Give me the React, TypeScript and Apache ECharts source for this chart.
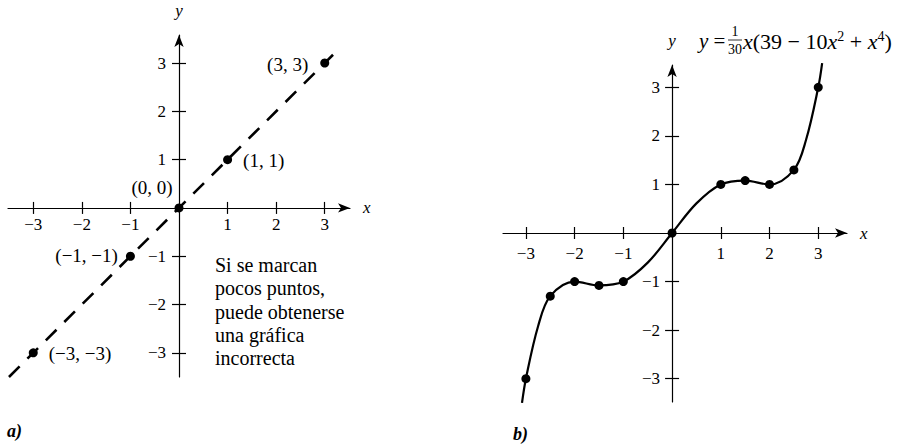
import React, { useEffect, useRef } from "react";
import * as echarts from "echarts";

// ---- Data ----
const TICKS = [-3, -2, -1, 1, 2, 3];

// Panel a: five plotted points and the dashed straight line through them
const pointsAX = [-3, -1, 0, 1, 3];
const pointsAY = [-3, -1, 0, 1, 3];
const pointsALabels = ["(−3, −3)", "(−1, −1)", "(0, 0)", "(1, 1)", "(3, 3)"];
const lineAX = [-3.5, 3.3];
const lineAY = [-3.5, 3.3];
const noteA = ["Si se marcan", "pocos puntos,", "puede obtenerse", "una gráfica", "incorrecta"];

// Panel b: plotted points and the smooth curve drawn through them
const pointsBX = [-3, -2.5, -2, -1.5, -1, 0, 1, 1.5, 2, 2.5, 3];
const pointsBY = [-3, -1.3, -1, -1.08, -1, 0, 1, 1.08, 1, 1.3, 3];
const curveBX = [-3.08, -3, -2.75, -2.5, -2, -1.5, -1, -0.5, 0, 0.5, 1, 1.5, 2, 2.5, 2.75, 3, 3.08];
const curveBY = [-3.5, -3, -1.92, -1.3, -1, -1.08, -1, -0.61, 0, 0.61, 1, 1.08, 1, 1.3, 1.92, 3, 3.5];

// Axis ranges
const rangeA = { xmin: -3.52, xmax: 3.52, ymin: -3.5, ymax: 3.58 };
const rangeB = { xmin: -3.47, xmax: 3.59, ymin: -3.48, ymax: 3.46 };

// ---- Layout / styling ----
const SERIF = "Liberation Serif";
const INK = "#000";
const gridA = { left: 8, top: 35, width: 342, height: 342 };
const gridB = { left: 503, top: 65, width: 344, height: 337 };

const labelPosA = [
  { position: "right", distance: 11, offset: [0, 1] },
  { position: "left", distance: 8, offset: [0, -1] },
  { position: "top", distance: 6, offset: [-27, 0] },
  { position: "right", distance: 11, offset: [0, 1] },
  { position: "left", distance: 12, offset: [0, 1] },
];

const fmt = (v: number) => (v < 0 ? "−" + Math.abs(v) : String(v));

type G = { left: number; top: number; width: number; height: number };
type R = { xmin: number; xmax: number; ymin: number; ymax: number };

function zeroPos(g: G, r: R) {
  const zx = g.left + (g.width * (0 - r.xmin)) / (r.xmax - r.xmin);
  const zy = g.top + (g.height * (r.ymax - 0)) / (r.ymax - r.ymin);
  return { zx, zy };
}

const tickStyle = { color: INK, width: 1.2 };
const labelStyle = { fontFamily: SERIF, fontSize: 17, color: INK };

function xAxes(gridIndex: number, g: G, r: R, labelMargin: number) {
  const { zy } = zeroPos(g, r);
  const base = { type: "value", gridIndex, min: r.xmin, max: r.xmax, splitLine: { show: false } };
  return [
    {
      ...base,
      position: "bottom",
      offset: -(g.top + g.height - zy),
      name: "x",
      nameLocation: "end",
      nameGap: 13,
      nameTextStyle: { fontFamily: SERIF, fontStyle: "italic", fontSize: 17, color: INK, verticalAlign: "middle" },
      axisLine: {
        show: true,
        onZero: false,
        symbol: ["none", "arrow"],
        symbolSize: [7, 12],
        lineStyle: { color: INK, width: 1.2 },
      },
      axisTick: { show: true, customValues: TICKS, length: 6, lineStyle: tickStyle },
      axisLabel: { show: true, customValues: TICKS, formatter: fmt, margin: labelMargin, ...labelStyle },
    },
    {
      ...base,
      position: "top",
      offset: -(zy - g.top),
      axisLine: { show: false, onZero: false },
      axisTick: { show: true, customValues: TICKS, length: 6, lineStyle: tickStyle },
      axisLabel: { show: false },
    },
  ];
}

function yAxes(gridIndex: number, g: G, r: R, labelMargin: number) {
  const { zx } = zeroPos(g, r);
  const base = { type: "value", gridIndex, min: r.ymin, max: r.ymax, splitLine: { show: false } };
  return [
    {
      ...base,
      position: "left",
      offset: -(zx - g.left),
      name: "y",
      nameLocation: "end",
      nameGap: 16,
      nameTextStyle: { fontFamily: SERIF, fontStyle: "italic", fontSize: 17, color: INK },
      axisLine: {
        show: true,
        onZero: false,
        symbol: ["none", "arrow"],
        symbolSize: [7, 12],
        lineStyle: { color: INK, width: 1.2 },
      },
      axisTick: { show: true, customValues: TICKS, length: 7, lineStyle: tickStyle },
      axisLabel: { show: true, customValues: TICKS, formatter: fmt, margin: labelMargin, ...labelStyle },
    },
    {
      ...base,
      position: "right",
      offset: -(g.left + g.width - zx),
      axisLine: { show: false, onZero: false },
      axisTick: { show: true, customValues: TICKS, length: 7, lineStyle: tickStyle },
      axisLabel: { show: false },
    },
  ];
}

export default function App() {
  const ref = useRef<HTMLDivElement>(null);

  useEffect(() => {
    if (!ref.current) return;
    const chart = echarts.init(ref.current, undefined, { renderer: "svg" });

    const lineAData = lineAX.map((x, i) => [x, lineAY[i]]);
    const pointsAData = pointsAX.map((x, i) => ({
      value: [x, pointsAY[i]],
      label: {
        show: true,
        formatter: pointsALabels[i],
        position: labelPosA[i].position,
        distance: labelPosA[i].distance,
        offset: labelPosA[i].offset,
      },
    }));
    const curveBData = curveBX.map((x, i) => [x, curveBY[i]]);
    const pointsBData = pointsBX.map((x, i) => [x, pointsBY[i]]);

    const option = {
      animation: false,
      backgroundColor: "#fff",
      grid: [
        { ...gridA, containLabel: false, outerBoundsMode: "none" },
        { ...gridB, containLabel: false, outerBoundsMode: "none" },
      ],
      xAxis: [...xAxes(0, gridA, rangeA, 8), ...xAxes(1, gridB, rangeB, 12)],
      yAxis: [...yAxes(0, gridA, rangeA, 13), ...yAxes(1, gridB, rangeB, 12)],
      series: [
        {
          type: "line",
          xAxisIndex: 0,
          yAxisIndex: 0,
          data: lineAData,
          symbol: "none",
          clip: false,
          lineStyle: { color: INK, width: 2.6, type: [15, 11] },
        },
        {
          type: "scatter",
          xAxisIndex: 0,
          yAxisIndex: 0,
          data: pointsAData,
          symbolSize: 9,
          clip: false,
          itemStyle: { color: INK, opacity: 1 },
          label: { fontFamily: SERIF, fontSize: 19, color: INK },
          z: 5,
        },
        {
          type: "line",
          xAxisIndex: 2,
          yAxisIndex: 2,
          data: curveBData,
          symbol: "none",
          smooth: 0.35,
          clip: false,
          lineStyle: { color: INK, width: 2.2 },
        },
        {
          type: "scatter",
          xAxisIndex: 2,
          yAxisIndex: 2,
          data: pointsBData,
          symbolSize: 9,
          clip: false,
          itemStyle: { color: INK, opacity: 1 },
          z: 5,
        },
      ],
      graphic: [
        {
          type: "text",
          left: 215,
          top: 253,
          style: {
            text: noteA.join("\n"),
            fontFamily: SERIF,
            fontSize: 20,
            lineHeight: 23.4,
            fill: INK,
          },
        },
        {
          type: "text",
          left: 7,
          top: 422,
          style: { text: "a)", fontFamily: SERIF, fontSize: 18, fontWeight: "bold", fontStyle: "italic", fill: INK },
        },
        {
          type: "text",
          left: 513,
          top: 425,
          style: { text: "b)", fontFamily: SERIF, fontSize: 18, fontWeight: "bold", fontStyle: "italic", fill: INK },
        },
        {
          type: "group",
          children: [
            {
              type: "text",
              x: 699,
              y: 41,
              style: {
                text: "{i|y} =",
                fontFamily: SERIF,
                fontSize: 21,
                fill: INK,
                verticalAlign: "middle",
                rich: { i: { fontStyle: "italic", fontFamily: SERIF, fontSize: 21 } },
              },
            },
            {
              type: "text",
              x: 735,
              y: 31,
              style: { text: "1", fontFamily: SERIF, fontSize: 14, fill: INK, align: "center", verticalAlign: "middle" },
            },
            {
              type: "line",
              shape: { x1: 728, y1: 40, x2: 742, y2: 40 },
              style: { stroke: INK, lineWidth: 0.8 },
            },
            {
              type: "text",
              x: 735,
              y: 49,
              style: { text: "30", fontFamily: SERIF, fontSize: 14, fill: INK, align: "center", verticalAlign: "middle" },
            },
            {
              type: "text",
              x: 743,
              y: 41,
              style: {
                text: "{i|x}(39 − 10{i|x}{s|2} + {i|x}{s|4})",
                fontFamily: SERIF,
                fontSize: 22,
                fill: INK,
                verticalAlign: "middle",
                rich: {
                  i: { fontStyle: "italic", fontFamily: SERIF, fontSize: 22 },
                  s: { fontFamily: SERIF, fontSize: 14, verticalAlign: "top", padding: [0, 0, 10, 0] },
                },
              },
            },
          ],
        },
      ],
    };

    chart.setOption(option as any);
    return () => chart.dispose();
  }, []);

  return (
    <div
      ref={ref}
      style={{ position: "absolute", left: 0, top: 0, width: 912, height: 446 }}
    />
  );
}
